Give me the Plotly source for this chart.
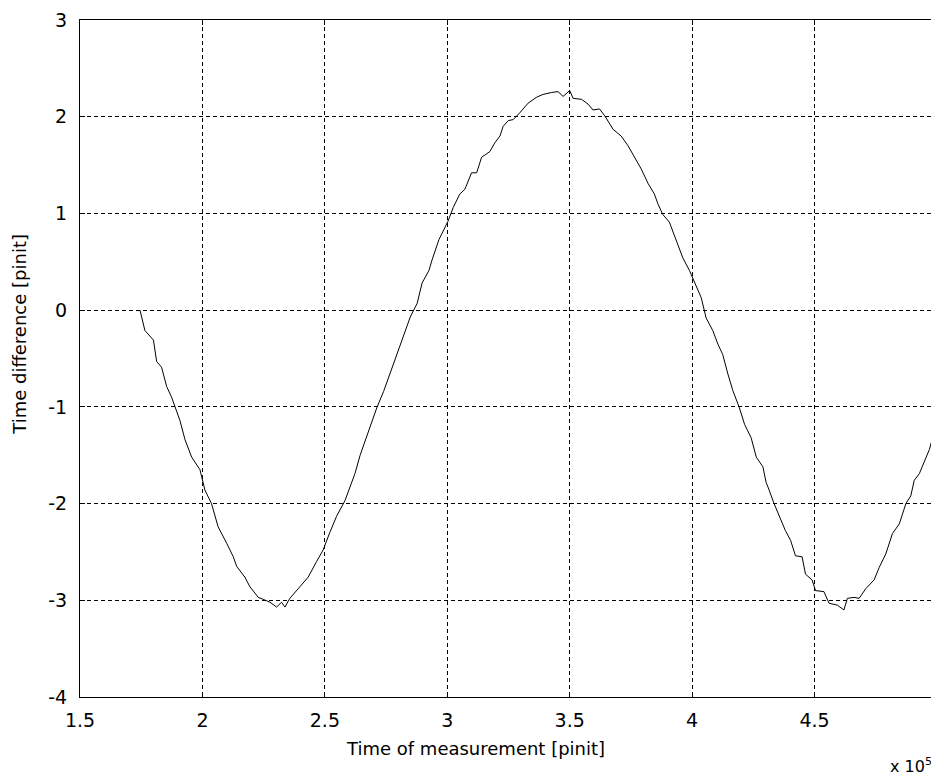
import plotly.graph_objects as go

# x in units of 1e5 [pinit], y = time difference [pinit]
x_e5 = [1.745, 1.765, 1.800, 1.813, 1.833, 1.854, 1.874, 1.888, 1.908, 1.929,
        1.956, 1.990, 2.010, 2.037, 2.064, 2.099, 2.126, 2.140, 2.173, 2.194,
        2.228, 2.248, 2.276, 2.303, 2.323, 2.337, 2.357, 2.398, 2.432, 2.466,
        2.493, 2.520, 2.548, 2.582, 2.603, 2.623, 2.644, 2.678, 2.712, 2.740,
        2.760, 2.795, 2.822, 2.849, 2.877, 2.897, 2.925, 2.938, 2.966, 3.003,
        3.024, 3.051, 3.072, 3.099, 3.120, 3.140, 3.174, 3.194, 3.215, 3.228,
        3.249, 3.269, 3.296, 3.330, 3.364, 3.390, 3.425, 3.452, 3.473, 3.500,
        3.514, 3.548, 3.575, 3.595, 3.622, 3.643, 3.677, 3.710, 3.738, 3.765,
        3.792, 3.820, 3.846, 3.860, 3.880, 3.907, 3.935, 3.962, 3.989, 4.010,
        4.037, 4.057, 4.084, 4.105, 4.125, 4.146, 4.166, 4.193, 4.214, 4.241,
        4.262, 4.289, 4.302, 4.313, 4.333, 4.361, 4.381, 4.402, 4.422, 4.449,
        4.463, 4.490, 4.504, 4.538, 4.559, 4.593, 4.620, 4.634, 4.661, 4.682,
        4.709, 4.743, 4.764, 4.791, 4.818, 4.846, 4.873, 4.893, 4.907, 4.928,
        4.948, 4.969, 4.989, 5.000]
y_vals = [0.00, -0.21, -0.31, -0.53, -0.59, -0.79, -0.90, -1.00, -1.14, -1.34,
          -1.52, -1.65, -1.86, -2.00, -2.24, -2.41, -2.55, -2.65, -2.76, -2.86,
          -2.97, -2.99, -3.02, -3.07, -3.02, -3.07, -2.98, -2.86, -2.76, -2.60,
          -2.48, -2.30, -2.13, -1.97, -1.82, -1.69, -1.50, -1.26, -1.01, -0.84,
          -0.70, -0.46, -0.28, -0.07, 0.07, 0.28, 0.41, 0.52, 0.73, 0.92,
          1.06, 1.20, 1.25, 1.42, 1.42, 1.58, 1.64, 1.73, 1.80, 1.90,
          1.96, 1.97, 2.04, 2.14, 2.20, 2.23, 2.25, 2.26, 2.21, 2.27,
          2.19, 2.18, 2.13, 2.07, 2.08, 2.01, 1.87, 1.80, 1.70, 1.58,
          1.46, 1.31, 1.20, 1.10, 0.99, 0.91, 0.72, 0.54, 0.41, 0.29,
          0.13, -0.08, -0.21, -0.35, -0.46, -0.66, -0.83, -1.01, -1.18, -1.32,
          -1.52, -1.62, -1.78, -1.85, -1.99, -2.16, -2.28, -2.38, -2.54, -2.55,
          -2.73, -2.79, -2.90, -2.91, -3.03, -3.05, -3.10, -2.98, -2.97, -2.98,
          -2.88, -2.79, -2.66, -2.52, -2.31, -2.21, -2.00, -1.92, -1.76, -1.69,
          -1.56, -1.44, -1.26, -1.23]

x_tick_vals_e5 = [1.5, 2, 2.5, 3, 3.5, 4, 4.5, 5]
x_tick_text = ["1.5", "2", "2.5", "3", "3.5", "4", "4.5", "5"]
y_tick_vals = [-4, -3, -2, -1, 0, 1, 2, 3]
y_tick_text = ["-4", "-3", "-2", "-1", "0", "1", "2", "3"]

SCALE = 1e5
x_vals = [v * SCALE for v in x_e5]

FONT = "DejaVu Sans, Verdana, sans-serif"
TICK_SIZE = 19
TITLE_SIZE = 18

fig = go.Figure()
fig.add_trace(go.Scatter(x=x_vals, y=y_vals, mode="lines",
                         line=dict(color="black", width=1), showlegend=False))

axis_common = dict(
    showline=True, linecolor="black", linewidth=1, mirror="ticks",
    ticks="inside", ticklen=5, tickcolor="black", tickwidth=1,
    showgrid=True, gridcolor="black", gridwidth=1, griddash="4px,3px",
    zeroline=False, tickfont=dict(family=FONT, size=TICK_SIZE, color="black"),
    ticklabeloverflow="allow", automargin=False,
)

fig.update_xaxes(
    range=[1.5 * SCALE, 5 * SCALE],
    tickvals=[v * SCALE for v in x_tick_vals_e5], ticktext=x_tick_text,
    ticklabelstandoff=6,
    **axis_common,
)
fig.update_yaxes(
    range=[-4, 3], tickvals=y_tick_vals, ticktext=y_tick_text,
    ticklabelstandoff=8,
    **axis_common,
)

title_font = dict(family=FONT, size=TITLE_SIZE, color="black")
fig.add_annotation(text="Time of measurement [pinit]", xref="paper", yref="paper",
                   x=0.462, y=0, xanchor="center", yanchor="middle", yshift=-51,
                   showarrow=False, font=title_font)
fig.add_annotation(text="Time difference [pinit]", xref="paper", yref="paper",
                   x=0, y=0.535, xanchor="center", yanchor="middle", xshift=-60,
                   textangle=-90, showarrow=False, font=title_font)
fig.add_annotation(text="x 10<sup>5</sup>", xref="paper", yref="paper",
                   x=1, y=0, xanchor="right", yanchor="middle", yshift=-68,
                   xshift=-3, showarrow=False,
                   font=dict(family=FONT, size=16, color="black"))

# the page adds an 8px body margin, so the figure is sized to fit the window
fig.update_layout(
    width=931, height=770,
    margin=dict(l=72, r=2, t=12, b=81),
    paper_bgcolor="white", plot_bgcolor="white",
    font=dict(family=FONT, size=TICK_SIZE, color="black"),
)

fig.write_html("out.html")
